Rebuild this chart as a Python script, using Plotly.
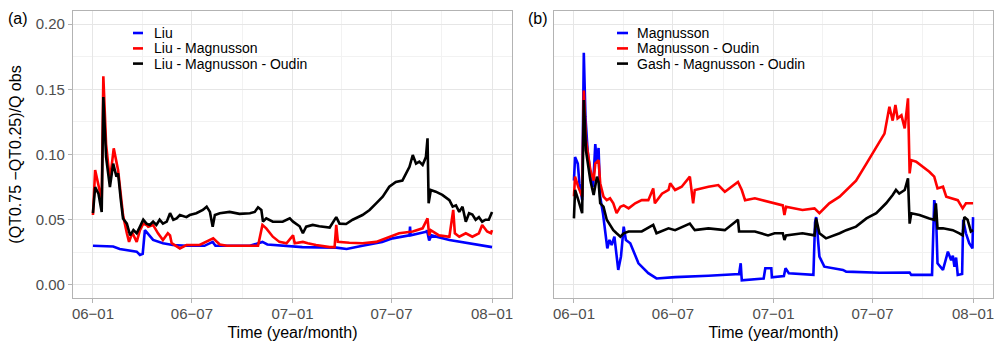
import pandas as pd
import plotly.graph_objects as go
from plotly.subplots import make_subplots

# ---------------- data (day offsets from 2006-01-01, values) ----------------
START = "2006-01-01"

liu_days = [0, 37, 49, 80, 86, 91, 95, 110, 128, 146, 172, 204, 219, 224, 287, 310, 319, 360, 383,
            445, 464, 493, 529, 548, 579, 580, 581, 610, 611, 615, 619, 652, 683, 712, 730]
liu_vals = [0.030, 0.0295, 0.0276, 0.0255, 0.023, 0.0238, 0.042, 0.0345, 0.032, 0.0306, 0.030, 0.030,
            0.033, 0.030, 0.030, 0.033, 0.031, 0.030, 0.029, 0.0286, 0.0276, 0.030, 0.033, 0.0357,
            0.038, 0.0447, 0.038, 0.0408, 0.042, 0.034, 0.038, 0.0345, 0.0324, 0.0306, 0.029]

liu_mag_days = [0, 4, 10, 16, 19, 24, 31, 38, 46, 51, 55, 62, 66, 72, 80, 86, 92, 98, 101, 110, 116,
                119, 128, 137, 141, 144, 159, 171, 195, 220, 232, 245, 287, 302, 310, 317, 329, 341,
                354, 366, 369, 384, 393, 408, 433, 442, 445, 448, 469, 493, 518, 542, 560, 585, 603,
                612, 615, 618, 633, 652, 659, 662, 670, 682, 694, 706, 712, 721, 728, 730]
liu_mag_vals = [0.0536, 0.088, 0.0766, 0.065, 0.160, 0.108, 0.080, 0.1047, 0.088, 0.0676, 0.0536,
                0.0396, 0.033, 0.040, 0.033, 0.042, 0.047, 0.046, 0.0447, 0.046, 0.041, 0.0396,
                0.0345, 0.0396, 0.038, 0.032, 0.028, 0.0306, 0.0306, 0.0357, 0.031, 0.030, 0.030,
                0.030, 0.046, 0.0434, 0.037, 0.033, 0.032, 0.038, 0.032, 0.033, 0.032, 0.0306,
                0.029, 0.029, 0.046, 0.033, 0.0324, 0.032, 0.033, 0.037, 0.0396, 0.041, 0.0434,
                0.051, 0.038, 0.042, 0.038, 0.037, 0.0575, 0.0396, 0.037, 0.0396, 0.037, 0.0396,
                0.046, 0.041, 0.0396, 0.042]

liu_mag_oud_days = [0, 4, 10, 16, 19, 24, 31, 37, 43, 46, 51, 55, 62, 68, 74, 80, 86, 92, 98, 104,
                    110, 116, 122, 128, 135, 141, 147, 153, 159, 171, 177, 189, 201, 208, 214, 219,
                    223, 232, 250, 268, 287, 296, 302, 308, 311, 317, 329, 347, 360, 366, 378, 384,
                    390, 402, 414, 433, 445, 451, 463, 475, 493, 506, 518, 530, 542, 554, 566, 579,
                    585, 591, 597, 603, 609, 612, 614, 618, 627, 639, 652, 658, 664, 670, 676, 682,
                    688, 694, 700, 706, 712, 718, 724, 730]
liu_mag_oud_vals = [0.055, 0.075, 0.070, 0.056, 0.144, 0.098, 0.075, 0.093, 0.083, 0.0855, 0.065,
                    0.051, 0.047, 0.038, 0.042, 0.0396, 0.0447, 0.050, 0.047, 0.046, 0.0485, 0.046,
                    0.050, 0.047, 0.0485, 0.055, 0.050, 0.051, 0.0536, 0.052, 0.0536, 0.055, 0.0575,
                    0.060, 0.056, 0.0447, 0.0536, 0.055, 0.056, 0.0545, 0.055, 0.056, 0.0595, 0.0575,
                    0.0485, 0.051, 0.0485, 0.0485, 0.051, 0.0485, 0.045, 0.0396, 0.0447, 0.046,
                    0.045, 0.044, 0.052, 0.047, 0.0467, 0.050, 0.0536, 0.0575, 0.0626, 0.0677,
                    0.0753, 0.079, 0.080, 0.0906, 0.0996, 0.093, 0.0945, 0.092, 0.098, 0.1124,
                    0.0626, 0.0728, 0.0715, 0.069, 0.065, 0.060, 0.061, 0.056, 0.060, 0.0485, 0.055,
                    0.054, 0.050, 0.052, 0.0485, 0.050, 0.050, 0.056]

mag_days = [0, 2, 7, 10, 15, 18, 21, 25, 30, 35, 39, 42, 45, 48, 53, 57, 61, 65, 69, 74, 77, 81, 86,
            91, 95, 103, 118, 136, 151, 185, 246, 302, 305, 307, 347, 350, 361, 362, 384, 387, 393,
            438, 441, 443, 449, 458, 492, 498, 559, 614, 617, 655, 659, 662, 665, 675, 684, 690,
            693, 696, 699, 702, 710, 712, 717, 723, 729, 730]
mag_vals = [0.080, 0.098, 0.093, 0.078, 0.065, 0.178, 0.129, 0.103, 0.0855, 0.075, 0.108, 0.093,
            0.105, 0.0676, 0.055, 0.041, 0.028, 0.0345, 0.0306, 0.037, 0.0268, 0.0115, 0.0217,
            0.0447, 0.0345, 0.032, 0.0166, 0.009, 0.005, 0.006, 0.007, 0.0084, 0.0166, 0.0035,
            0.005, 0.0128, 0.0128, 0.0059, 0.0069, 0.0128, 0.009, 0.0077, 0.048, 0.052, 0.0217,
            0.014, 0.0115, 0.0102, 0.0094, 0.0095, 0.0077, 0.0077, 0.065, 0.0575, 0.0166, 0.0115,
            0.0255, 0.019, 0.0225, 0.014, 0.021, 0.0077, 0.0084, 0.050, 0.0396, 0.032, 0.028, 0.052]

mag_oud_days = [0, 2, 8, 15, 18, 22, 30, 36, 39, 45, 48, 54, 60, 66, 72, 78, 85, 91, 100, 112, 124,
                136, 145, 148, 161, 173, 176, 185, 197, 212, 218, 221, 246, 264, 276, 300, 307, 313,
                331, 355, 367, 382, 385, 388, 418, 440, 449, 467, 486, 498, 516, 535, 553, 568, 577,
                583, 588, 592, 599, 605, 611, 614, 617, 626, 650, 659, 665, 675, 681, 693, 702, 711,
                717, 730]
mag_oud_vals = [0.068, 0.083, 0.075, 0.0677, 0.149, 0.111, 0.088, 0.080, 0.093, 0.0957, 0.078,
                0.0677, 0.065, 0.0664, 0.0626, 0.055, 0.060, 0.061, 0.0587, 0.0626, 0.065, 0.065,
                0.074, 0.0626, 0.070, 0.0728, 0.078, 0.0728, 0.0753, 0.083, 0.0626, 0.0728, 0.0753,
                0.0766, 0.0715, 0.079, 0.0728, 0.065, 0.0664, 0.064, 0.0626, 0.061, 0.0536, 0.060,
                0.0575, 0.0587, 0.055, 0.0626, 0.0677, 0.0728, 0.080, 0.093, 0.106, 0.116, 0.1366,
                0.126, 0.138, 0.1277, 0.130, 0.120, 0.143, 0.0855, 0.0957, 0.0945, 0.0868, 0.083,
                0.074, 0.0753, 0.0677, 0.0664, 0.065, 0.0587, 0.0626, 0.0626]

gash_days = [0, 2, 8, 15, 18, 22, 30, 36, 42, 45, 48, 54, 60, 66, 72, 78, 85, 91, 100, 124, 145, 151,
             173, 185, 212, 221, 246, 276, 300, 302, 331, 355, 367, 382, 385, 388, 418, 440, 443,
             449, 461, 486, 498, 516, 535, 553, 571, 583, 589, 595, 605, 611, 614, 617, 632, 650,
             659, 662, 665, 675, 693, 705, 711, 714, 720, 726, 730]
gash_vals = [0.051, 0.0728, 0.065, 0.055, 0.1417, 0.103, 0.080, 0.069, 0.083, 0.079, 0.0626, 0.060,
             0.050, 0.046, 0.042, 0.0396, 0.037, 0.0396, 0.041, 0.041, 0.046, 0.0396, 0.0434, 0.042,
             0.047, 0.042, 0.0434, 0.042, 0.050, 0.041, 0.041, 0.038, 0.0396, 0.0396, 0.0345, 0.038,
             0.0396, 0.038, 0.051, 0.0396, 0.0357, 0.0396, 0.042, 0.0447, 0.051, 0.055, 0.0626,
             0.069, 0.0728, 0.070, 0.0728, 0.0817, 0.047, 0.055, 0.0536, 0.051, 0.050, 0.0626,
             0.0434, 0.0434, 0.042, 0.0396, 0.038, 0.052, 0.050, 0.041, 0.042]

tick_dates = ["2006-01-01", "2006-07-01", "2007-01-01", "2007-07-01", "2008-01-01"]
tick_labels = ["06\u221201", "06\u221207", "07\u221201", "07\u221207", "08\u221201"]
y_ticks = [0.00, 0.05, 0.10, 0.15, 0.20]
y_labels = ["0.00", "0.05", "0.10", "0.15", "0.20"]

names_a = ["Liu", "Liu - Magnusson", "Liu - Magnusson - Oudin"]
names_b = ["Magnusson", "Magnusson - Oudin", "Gash - Magnusson - Oudin"]
colors = ["#0000FF", "#FF0000", "#000000"]


def to_dates(days):
    return pd.Timestamp(START) + pd.to_timedelta(days, unit="D")


series_a = [(liu_days, liu_vals), (liu_mag_days, liu_mag_vals), (liu_mag_oud_days, liu_mag_oud_vals)]
series_b = [(mag_days, mag_vals), (mag_oud_days, mag_oud_vals), (gash_days, gash_vals)]

# ---------------- figure ----------------
W, H = 996, 341
ML, MR, MT, MB = 73, 3, 11, 43
PW = W - ML - MR
PH = H - MT - MB
FONT = "Liberation Sans, Arial, sans-serif"
LW = 2.6

fig = make_subplots(rows=1, cols=2, shared_yaxes=False, horizontal_spacing=0.0)

for (d, v), nm, c in zip(series_a, names_a, colors):
    fig.add_trace(go.Scatter(x=to_dates(d), y=v, mode="lines", name=nm,
                             line=dict(color=c, width=LW), showlegend=False), row=1, col=1)
for (d, v), nm, c in zip(series_b, names_b, colors):
    fig.add_trace(go.Scatter(x=to_dates(d), y=v, mode="lines", name=nm,
                             line=dict(color=c, width=LW), showlegend=False), row=1, col=2)

x0 = pd.Timestamp(tick_dates[0]) - pd.Timedelta(days=36.5)
x1 = pd.Timestamp(tick_dates[-1]) + pd.Timedelta(days=36.5)
minor_vals = [pd.Timestamp(tick_dates[i]) + (pd.Timestamp(tick_dates[i + 1]) - pd.Timestamp(tick_dates[i])) / 2
              for i in range(len(tick_dates) - 1)]

border = "#B3B3B3"
grid = "#E6E6E6"
grid_minor = "#F2F2F2"
tickfont = dict(family=FONT, size=15, color="#4D4D4D")
titlefont = dict(family=FONT, size=16, color="#000000")

xcommon = dict(range=[x0, x1], tickvals=tick_dates, ticktext=tick_labels, tickfont=tickfont,
               showline=True, mirror=True, linecolor=border, linewidth=1.3,
               ticks="outside", ticklen=4, tickcolor=border, tickwidth=1, ticklabelstandoff=-2,
               showgrid=True, gridcolor=grid, gridwidth=1, zeroline=False,
               minor=dict(tickvals=minor_vals, showgrid=True, gridcolor=grid_minor, gridwidth=0.8, ticks=""),
               title=dict(text="Time (year/month)", font=titlefont, standoff=5))
ycommon = dict(range=[-0.01, 0.21], tickvals=y_ticks, ticktext=y_labels, tickfont=tickfont,
               showline=True, mirror=True, linecolor=border, linewidth=1.3,
               showgrid=True, gridcolor=grid, gridwidth=1, zeroline=False,
               minor=dict(tickvals=[0.025, 0.075, 0.125, 0.175], showgrid=True, gridcolor=grid_minor,
                          gridwidth=0.8, ticks=""))

da = (512 - ML) / PW
db = (554 - ML) / PW
fig.update_layout(
    width=W, height=H, margin=dict(l=ML, r=MR, t=MT, b=MB),
    plot_bgcolor="white", paper_bgcolor="white",
    xaxis=dict(domain=[0, da], **xcommon),
    xaxis2=dict(domain=[db, 1], **xcommon),
    yaxis=dict(**ycommon, ticks="outside", ticklen=4, tickcolor=border, tickwidth=1,
               title=dict(text="(QT0.75 \u2212QT0.25)/Q obs", font=titlefont, standoff=10)),
    yaxis2=dict(**ycommon, showticklabels=False, ticks=""),
)


def px_x(px):
    return (px - ML) / PW


def px_y(py):
    return (H - MB - py) / PH


# custom legends (short ggplot-style keys)
rows_y = [33.0, 48.4, 63.6]
for names, (lx0, lx1, tx) in [(names_a, (133, 143, 153)), (names_b, (617, 628, 636))]:
    for nm, c, ry in zip(names, colors, rows_y):
        fig.add_shape(type="line", xref="paper", yref="paper",
                      x0=px_x(lx0), x1=px_x(lx1), y0=px_y(ry), y1=px_y(ry),
                      line=dict(color=c, width=LW))
        fig.add_annotation(xref="paper", yref="paper", x=px_x(tx), y=px_y(ry), text=nm,
                           showarrow=False, xanchor="left", yanchor="middle", borderpad=0,
                           font=dict(family=FONT, size=14, color="#000000"))

for lab, cx in [("(a)", 17.5), ("(b)", 538)]:
    fig.add_annotation(xref="paper", yref="paper", x=px_x(cx), y=px_y(18), text=lab,
                       showarrow=False, xanchor="center", yanchor="middle",
                       font=dict(family=FONT, size=16, color="#000000"))

fig.write_html("out.html")
